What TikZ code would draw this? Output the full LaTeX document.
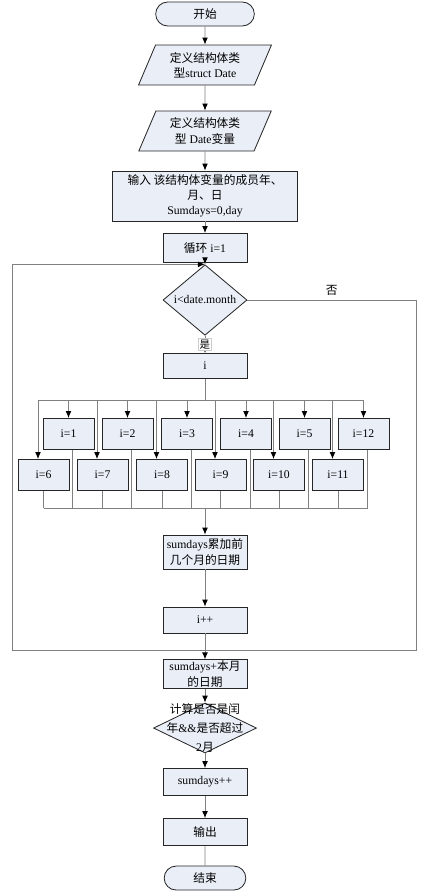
\documentclass[tikz,border=0pt]{standalone}
\usepackage{fontspec}
\setmainfont{Liberation Serif}
\newfontfamily\cjk{Noto Sans CJK SC}
\usetikzlibrary{shapes.geometric,shapes.misc,arrows.meta,positioning}

\newcommand{\zh}[1]{{\cjk #1}}
\definecolor{boxfill}{RGB}{233,238,247}
\definecolor{linegray}{RGB}{128,128,128}

\tikzset{
	base/.style={draw=black!85,fill=boxfill,line width=0.7pt,font=\fontsize{10}{13}\selectfont,align=center,inner sep=1pt},
	proc/.style={base,rectangle,minimum width=2.52cm,minimum height=0.87cm},
	case/.style={base,rectangle,minimum width=1.53cm,minimum height=0.93cm},
	term/.style={base,rounded rectangle,minimum width=2.52cm,minimum height=0.72cm},
	io/.style={base,trapezium,trapezium left angle=66,trapezium right angle=114,trapezium stretches=true,minimum width=3.99cm,minimum height=1.2cm},
	dec/.style={base,diamond,inner sep=0pt,minimum width=2.52cm,minimum height=1.5cm},
	overtext/.style={font=\fontsize{10}{16.5}\selectfont,align=center},
	flow/.style={draw=linegray,line width=0.8pt,-{Latex[black,length=6pt,width=5pt]}},
	wire/.style={draw=linegray,line width=0.8pt}
}

\begin{document}
\begin{tikzpicture}[x=0.03cm,y=-0.03cm,on grid]
	\useasboundingbox (0,0) rectangle (430,894);

	\node[term] (start) at (205,14) [minimum width=3.03cm] {\zh{开始}};
	\node[io] (def1) [below=1.53cm of start] {\zh{定义结构体类}\\\zh{型}struct Date};
	\node[io] (def2) [below=1.98cm of def1] {\zh{定义结构体类}\\\zh{型} Date\zh{变量}};
	\node[proc] (input) [below=1.95cm of def2,minimum width=5.55cm,minimum height=1.5cm] {\zh{输入 该结构体变量的成员年、}\\\zh{月、日}\\Sumdays=0,day};
	\node[proc] (init) [below=1.56cm of input] {\zh{循环} i=1};
	\node[dec] (cond) [below=1.56cm of init] {i<date.month};
	\node[proc] (sel) [below=1.98cm of cond,minimum height=0.75cm] {i};

	% the twelve months
	\foreach \n/\x in {1/68.5,2/127.5,3/187,4/246,5/304.5,12/363.5}
		\node[case] (c\n) at (\x,434) {i=\n};
	\foreach \n/\x in {6/43.5,7/102.5,8/162,9/220.5,10/279,11/338}
		\node[case] (c\n) at (\x,475) {i=\n};

	\node[proc] (acc) [below=5.58cm of sel,minimum height=1.02cm] {sumdays\zh{累加前}\\\zh{几个月的日期}};
	\node[proc] (inc) [below=2.04cm of acc,minimum height=0.78cm] {i++};
	\node[proc] (month) [below=1.62cm of inc,minimum height=0.81cm] {sumdays+\zh{本月}\\\zh{的日期}};
	\node[dec] (leap) [below=1.62cm of month,minimum width=3.09cm,
		label={[overtext]center:{\zh{计算是否是闰}\\\zh{年}\&\&\zh{是否超过}\\2\zh{月}}}] {};
	\node[proc] (plus) [below=1.62cm of leap,minimum height=0.81cm] {sumdays++};
	\node[proc] (out) [below=1.5cm of plus,minimum height=0.81cm] {\zh{输出}};
	\node[term] (end) [below=1.38cm of out] {\zh{结束}};

	\coordinate (busL) at (38,400);
	\coordinate (busR) at (363.5,400);
	\coordinate (lowL) at (43.5,508);
	\coordinate (lowR) at (368,508);
	\coordinate (backL) at (12,650);
	\coordinate (noB) at (416,650);
	\coordinate (join) at (205,650);

	\path[flow]
		(start) edge (def1)
		(def1) edge (def2)
		(def2) edge (input)
		(input) edge (init)
		(init) edge (cond)
		(acc) edge (inc)
		(month) edge (leap)
		(leap) edge (plus)
		(plus) edge (out);
	\draw[wire] (out) -- (end);

	\draw[flow] (cond) -- node[fill=white,draw=black!20,inner sep=1pt,font=\cjk\fontsize{9}{9}\selectfont] {是} (sel);

	% switch on i
	\draw[wire] (sel) -- (sel |- busL);
	\draw[wire] (busL) -- (busR);
	\foreach \n in {1,2,3,4,5,12}
		\draw[flow] (c\n.north |- busL) -- (c\n.north);
	\foreach \n in {6,7,8,9,10,11}
		\draw[flow] ([xshift=-4.7pt]c\n.north |- busL) -- ([xshift=-4.7pt]c\n.north);
	\foreach \n in {1,2,3,4,5,12}
		\draw[wire] ([xshift=3.8pt]c\n.south) -- ([xshift=3.8pt]c\n.south |- lowL);
	\foreach \n in {6,7,8,9,10,11}
		\draw[wire] (c\n.south) -- (c\n.south |- lowL);
	\draw[wire] (lowL) -- (lowR);
	\draw[flow] (acc |- lowL) -- (acc);

	% loop back and exit
	\draw[flow] (inc) -- (join) -- (backL) |- (cond.north);
	\draw[flow] (cond.east) -- node[above,font=\cjk] {否} (cond.east -| noB) -- (noB) -- (join) -- (month);
\end{tikzpicture}
\end{document}
